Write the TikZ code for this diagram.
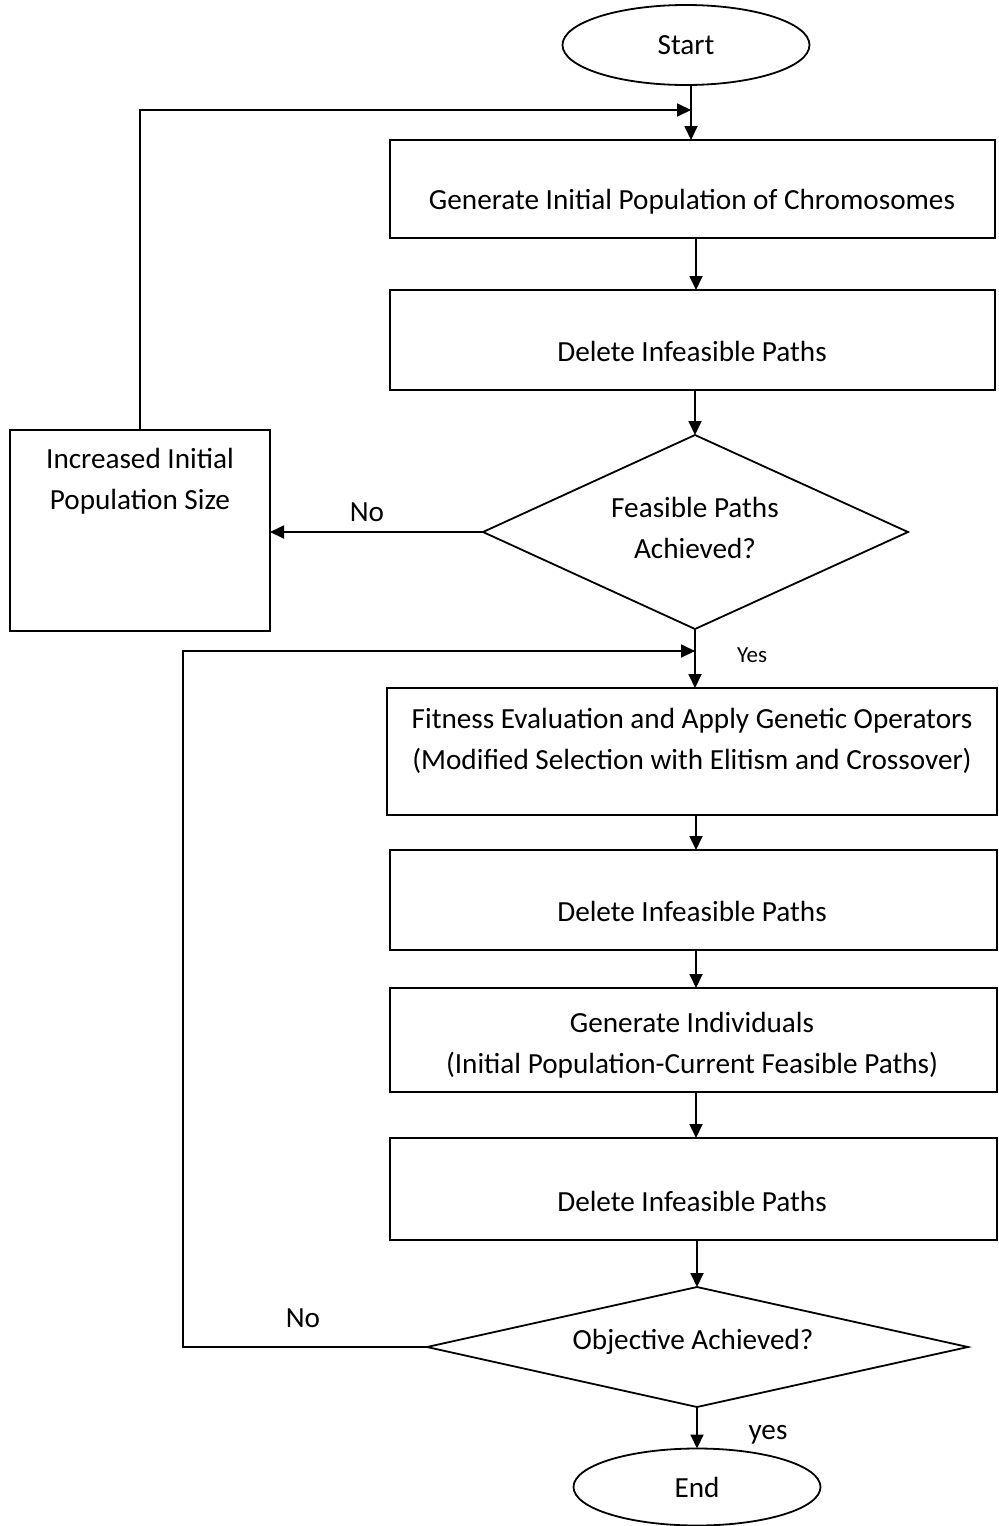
\documentclass[tikz,border=0pt]{standalone}
\usepackage{fontspec}
\setmainfont{Carlito}
\usetikzlibrary{shapes.geometric,arrows.meta}
\begin{document}
\begin{tikzpicture}[x=0.5pt,y=-0.5pt,
  every node/.style={inner sep=0pt, outer sep=0pt},
  shp/.style={draw, line width=0.9pt},
  box/.style={shp, rectangle},
  term/.style={shp, ellipse, font=\fontsize{14.6}{20.5}\selectfont},
  txt/.style={align=center, font=\fontsize{14.6}{20.5}\selectfont},
  smalltxt/.style={font=\fontsize{11.5}{13}\selectfont},
  arr/.style={line width=0.9pt, -{Triangle[length=7pt,width=6.5pt]}},
  ln/.style={line width=0.9pt, line join=miter}]
\useasboundingbox (0,0) rectangle (998,1526);

% terminals and boxes
\node[term, minimum width=123.5pt, minimum height=40pt] (start) at (686,45) {Start};
\node[box, minimum width=302.5pt, minimum height=49pt] (b1) at (692.5,189) {};
\node[box, minimum width=302.5pt, minimum height=50pt] (b2) at (692.5,340) {};
\node[box, minimum width=130pt, minimum height=100.5pt] (lbox) at (140,530.5) {};
\node[box, minimum width=305pt, minimum height=63.5pt] (b3) at (692,751.5) {};
\node[box, minimum width=303.5pt, minimum height=50pt] (b4) at (693.5,900) {};
\node[box, minimum width=303.5pt, minimum height=52pt] (b5) at (693.5,1040) {};
\node[box, minimum width=303.5pt, minimum height=51pt] (b6) at (693.5,1189) {};
\node[term, minimum width=123.5pt, minimum height=38.5pt] (end) at (697,1487) {End};

% decision diamonds
\coordinate (d1n) at (695,435);
\coordinate (d1e) at (908,532);
\coordinate (d1s) at (695,629);
\coordinate (d1w) at (483,532);
\draw[ln] (d1n) -- (d1e) -- (d1s) -- (d1w) -- cycle;
\node[txt] (d1) at (695,528) {Feasible Paths\\Achieved?};

\coordinate (d2n) at (697,1287);
\coordinate (d2e) at (968,1347);
\coordinate (d2s) at (697,1407);
\coordinate (d2w) at (427,1347);
\draw[ln] (d2n) -- (d2e) -- (d2s) -- (d2w) -- cycle;
\node[txt] (d2) at (693,1342) {Objective Achieved?};

% box texts
\node[txt] (t1) at (692,202) {Generate Initial Population of Chromosomes};
\node[txt] (t2) at (692,351) {Delete Infeasible Paths};
\node[txt] (tl) at (140,481) {Increased Initial\\Population Size};
\node[txt] (t3) at (692,741) {Fitness Evaluation and Apply Genetic Operators\\(Modified Selection with Elitism and Crossover)};
\node[txt] (t4) at (692,911) {Delete Infeasible Paths};
\node[txt] (t5) at (692,1045) {Generate Individuals\\(Initial Population-Current Feasible Paths)};
\node[txt] (t6) at (692,1201) {Delete Infeasible Paths};

% labels
\node[txt] (no1) at (367,512) {No};
\node[smalltxt] (yes1) at (752,655) {Yes};
\node[txt] (no2) at (303,1318) {No};
\node[txt] (yes2) at (768,1435) {yes};

% helper coordinates
\coordinate (sx) at (691,0);
\coordinate (ax) at (696,0);
\coordinate (j1) at (691,110);
\coordinate (j2) at (695,651);
\coordinate (lx) at (183,0);

% connectors
\draw[ln] (start.south -| sx) -- (j1);
\draw[arr] (j1) -- (b1.north -| sx);
\draw[arr] (b1.south -| ax) -- (b2.north -| ax);
\draw[arr] (b2.south -| d1n) -- (d1n);
\draw[arr] (d1w) -- (lbox.east |- d1w);
\draw[arr] (lbox.north) |- (j1);
\draw[ln] (d1s) -- (j2);
\draw[arr] (j2) -- (b3.north -| j2);
\draw[arr] (b3.south -| ax) -- (b4.north -| ax);
\draw[arr] (b4.south -| ax) -- (b5.north -| ax);
\draw[arr] (b5.south -| ax) -- (b6.north -| ax);
\draw[arr] (b6.south -| d2n) -- (d2n);
\draw[ln] (d2w) -- (d2w -| lx) |- (j2);
\draw[arr] (lx |- j2) -- (j2);
\draw[arr] (d2s) -- (end.north);
\end{tikzpicture}
\end{document}
